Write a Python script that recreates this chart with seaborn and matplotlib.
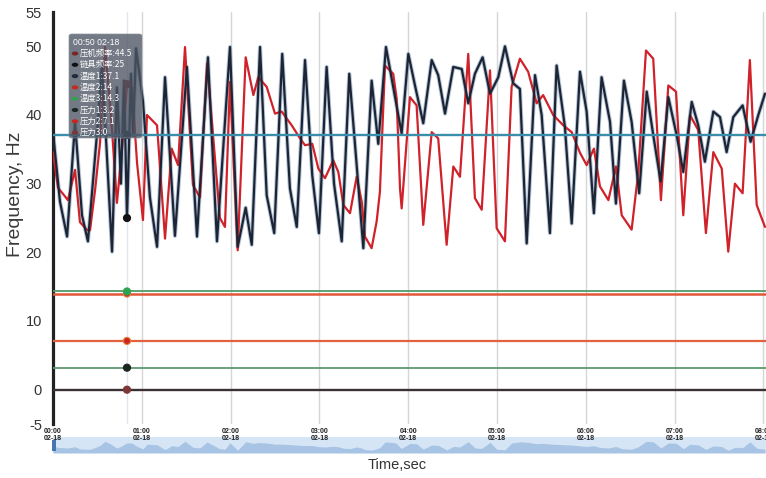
import numpy as np
import pandas as pd
import matplotlib
matplotlib.use("Agg")
import matplotlib.pyplot as plt
import seaborn as sns
from matplotlib.patches import FancyBboxPatch, Rectangle, Circle

# ---------------- data (time in minutes) ----------------
press_freq_t = [0.0, 3.4, 6.8, 10.1, 14.9, 18.2, 22.8, 25.0, 28.4, 31.8, 35.1, 39.2, 43.2, 46.6, 50.0,
                53.4, 56.8, 60.8, 63.5, 70.3, 75.7, 80.2, 84.5, 89.2, 94.6, 99.3, 104.1, 112.8, 116.2,
                119.6, 124.8, 130.2, 135.4, 138.7, 144.4, 150.0, 154.5, 161.3, 166.9, 170.3, 175.2,
                179.3, 183.8, 189.4, 192.8, 196.2, 200.7, 205.2, 208.6, 210.8, 215.3, 218.7, 220.9,
                224.3, 229.9, 232.2, 234.5, 235.6, 241.2, 245.7, 250.2, 255.9, 260.3, 266.0, 270.5,
                275.0, 280.6, 285.1, 289.7, 295.3, 299.8, 305.4, 309.9, 315.5, 321.1, 326.8, 331.2,
                338.0, 344.8, 350.5, 356.1, 360.6, 365.5, 369.6, 375.3, 380.4, 384.3, 391.0, 395.5,
                400.7, 405.6, 410.8, 415.8, 421.0, 425.9, 430.4, 436.0, 441.2, 446.2, 451.9, 456.3,
                460.8, 466.0, 470.9, 475.5, 481.1]
press_freq_v = [34.6, 29.4, 28.5, 27.6, 32.0, 24.4, 23.3, 23.2, 29.0, 36.0, 49.9, 40.0, 27.2, 35.0, 44.5,
                44.0, 33.0, 24.7, 40.0, 38.5, 22.0, 35.1, 32.7, 49.9, 29.8, 28.0, 47.5, 25.0, 23.7,
                44.8, 20.3, 48.4, 42.9, 45.5, 44.1, 40.2, 40.5, 38.5, 36.6, 35.6, 35.8,
                32.2, 30.8, 33.4, 31.7, 26.9, 25.7, 31.0, 27.4, 22.3, 20.6, 24.5, 28.8,
                47.2, 46.0, 42.4, 29.3, 26.4, 42.6, 41.4, 24.0, 37.5, 36.6, 21.1, 32.5,
                31.0, 48.9, 27.9, 26.2, 46.5, 23.5, 21.6, 44.1, 48.2, 46.3, 41.7, 42.9,
                40.0, 38.5, 37.5, 34.5, 32.7, 35.1, 29.6, 27.6, 32.5, 25.4, 23.3, 31.7,
                49.4, 48.2, 27.6, 44.3, 43.4, 25.4, 40.0, 37.8, 22.8, 34.6, 32.2, 20.1,
                30.0, 28.6, 48.0, 26.9, 23.7]

chain_freq_t = [0.0, 4.7, 9.5, 14.9, 19.6, 23.6, 30.4, 33.1, 39.9, 43.2, 45.9, 48.0, 50.0, 52.7, 54.1,
                56.1, 60.8, 65.5, 70.3, 75.7, 82.4, 90.5, 97.3, 104.7, 110.8, 119.6, 124.8, 130.2,
                134.3, 139.9, 144.4, 149.5, 154.9, 160.1, 164.7, 170.3, 175.2, 179.7, 184.9, 189.9,
                195.1, 200.2, 205.2, 209.7, 215.3, 219.8, 225.0, 229.7, 235.6, 240.1, 244.6, 250.2,
                255.9, 260.3, 264.9, 270.5, 276.2, 280.6, 285.1, 290.3, 295.3, 300.9, 305.4, 311.0,
                315.5, 320.1, 325.7, 330.2, 335.8, 340.3, 345.9, 350.5, 356.1, 360.6, 365.5, 370.7,
                376.4, 380.4, 385.8, 391.0, 396.1, 401.2, 405.6, 410.6, 415.8, 421.4, 425.9, 431.6,
                436.0, 440.5, 446.2, 450.7, 455.2, 459.7, 466.0, 471.4, 476.6, 481.1]
chain_freq_v = [37.5, 27.4, 22.3, 38.8, 25.4, 21.6, 39.0, 47.5, 20.1, 44.0, 30.0, 45.0, 25.0, 46.0, 37.0,
                49.7, 42.0, 28.0, 20.8, 45.5, 22.4, 47.0, 22.3, 48.4, 21.6, 49.9, 20.8, 26.5,
                21.1, 49.9, 28.3, 22.8, 48.9, 29.3, 23.7, 48.0, 31.2, 22.8, 47.0, 30.0,
                21.6, 46.0, 32.7, 20.6, 45.0, 35.8, 49.9, 44.3, 37.3, 48.9, 44.3, 38.8,
                48.0, 45.8, 40.2, 47.0, 46.7, 41.7, 46.0, 48.4, 43.1, 45.5, 50.0, 44.6,
                43.8, 21.3, 45.8, 40.0, 22.8, 47.2, 38.3, 24.2, 46.3, 40.5, 25.7, 45.5,
                39.0, 27.1, 45.0, 39.0, 28.6, 43.4, 37.1, 30.3, 42.6, 37.1, 31.7, 41.9,
                38.5, 33.2, 40.5, 39.7, 34.6, 39.7, 41.4, 36.1, 40.0, 43.1]

const_names = ["温度1", "温度2", "温度3", "压力1", "压力2", "压力3"]
const_vals = [37.1, 14.0, 14.3, 3.2, 7.1, 0.0]

hover_time = 50
tooltip_title = "00:50 02-18"
tooltip_names = ["压机频率", "链具频率", "温度1", "温度2", "温度3", "压力1", "压力2", "压力3"]
tooltip_vals = [44.5, 25, 37.1, 14, 14.3, 3.2, 7.1, 0]

x_ticks = [0, 60, 120, 180, 240, 300, 360, 420, 480]
x_date = "02-18"
y_ticks = [-5, 0, 10, 20, 30, 40, 50, 55]

# ---------------- styles ----------------
sns.set_style("white")
plt.rcParams["font.family"] = ["Liberation Sans", "Noto Sans CJK SC", "DejaVu Sans"]

W, H = 766, 478
fig = plt.figure(figsize=(W / 100, H / 100), dpi=100)

def fx(px):
    return px / W

def fy(py):
    return 1 - py / H

ax = fig.add_axes([fx(53), fy(424), fx(766) - fx(53), fy(12) - fy(424)])
ax.set_zorder(2)

df = pd.concat([
    pd.DataFrame({"t": press_freq_t, "v": press_freq_v, "series": "压机频率"}),
    pd.DataFrame({"t": chain_freq_t, "v": chain_freq_v, "series": "链具频率"}),
])
line_colors = {"压机频率": "#d0222a", "链具频率": "#1d2535"}

# halo under the dark series
sns.lineplot(data=df[df.series == "链具频率"], x="t", y="v", color="#6f8fb3", lw=3.0,
             alpha=0.5, sort=False, estimator=None, ax=ax, legend=False, zorder=2,
             solid_joinstyle="round")
sns.lineplot(data=df, x="t", y="v", hue="series", palette=line_colors, lw=1.6,
             sort=False, estimator=None, ax=ax, legend=False, zorder=3,
             solid_joinstyle="round")

const_colors = ["#3a8eab", "#e2573a", "#4f9c68", "#5a9a6e", "#e2613f", "#3b3033"]
const_lw = [1.7, 1.8, 1.3, 1.3, 1.6, 1.7]
for v, c, lw in zip(const_vals, const_colors, const_lw):
    ax.axhline(v, color=c, lw=lw, zorder=4)

ax.axvline(hover_time, color="#e1e7ee", lw=1.0, zorder=1)

marker_colors = ["#7b2626", "#111111", "#1f2a3d", "#c42a1e", "#2fa24f", "#1b2620", "#c8281e", "#7d3535"]
marker_edges = ["#7b2626", "#111111", "#1f2a3d", "#f07a3a", "#2fa24f", "#1b2620", "#f07a3a", "#7d3535"]
ax.scatter([hover_time] * len(tooltip_vals), tooltip_vals, s=26, c=marker_colors,
           edgecolors=marker_edges, linewidths=0.8, zorder=6)

ax.set_xlim(0, 481.8)
ax.set_ylim(-5, 55)
ax.set_xticks(x_ticks)
ax.set_xticklabels([f"{t // 60:02d}:{t % 60:02d}\n{x_date}" for t in x_ticks],
                   fontsize=5, color="#222222", linespacing=0.95, fontweight="bold")
ax.set_yticks(y_ticks)
ax.set_yticklabels([str(v) for v in y_ticks], fontsize=10.5, color="#333333")
ax.tick_params(axis="x", length=0, pad=3)
ax.tick_params(axis="y", length=4, width=1, color="#333333", pad=4)
ax.xaxis.grid(True, color="#d6d6d6", lw=1.0, zorder=0)
ax.yaxis.grid(False)
for s in ["top", "right", "bottom"]:
    ax.spines[s].set_visible(False)
ax.spines["left"].set_color("#222222")
ax.spines["left"].set_linewidth(2.3)
ax.set_xlabel("")
ax.set_ylabel("Frequency, Hz", fontsize=14, color="#3a3a3a")
ax.yaxis.set_label_coords((24 - 53) / 713, (424 - 194) / 412)

# ---------------- overview slider ----------------
ax2 = fig.add_axes([fx(53), fy(453), fx(766) - fx(53), fy(437) - fy(453)])
ax2.set_zorder(1)
ax2.set_facecolor("#d6e5f6")
ax2.fill_between(press_freq_t, 11, press_freq_v, color="#a7c4e5", lw=0)
ax2.set_xlim(0, 481.8)
ax2.set_ylim(11, 64)
ax2.set_xticks([])
ax2.set_yticks([])
for s in ax2.spines.values():
    s.set_visible(False)
fig.patches.append(Rectangle((fx(52), fy(451)), fx(4), fy(440) - fy(451), transform=fig.transFigure,
                             facecolor="#4a74b0", edgecolor="none", zorder=5))

fig.text(fx(397), fy(465), "Time,sec", ha="center", va="center", fontsize=10.5, color="#333333")

# ---------------- tooltip ----------------
box = FancyBboxPatch((fx(69), fy(138)), fx(142) - fx(69), fy(34) - fy(138),
                     boxstyle="round,pad=0,rounding_size=0.004", transform=fig.transFigure,
                     facecolor="#4c5563", edgecolor="#8a929c", lw=0.6, alpha=0.78, zorder=10)
fig.patches.append(box)
fig.text(fx(73), fy(42.7), tooltip_title, ha="left", va="center", fontsize=6.2, color="white", zorder=11)
for i, (n, v) in enumerate(zip(tooltip_names, tooltip_vals)):
    yy = 53.5 + i * 11.3
    fig.patches.append(Circle((fx(75), fy(yy)), 3.3 / W, transform=fig.transFigure,
                              facecolor=marker_colors[i], edgecolor="none", zorder=11))
    fig.text(fx(80), fy(yy), f"{n}:{v:g}", ha="left", va="center", fontsize=6,
             color="white", zorder=11, family=["Noto Sans CJK SC", "DejaVu Sans"])

fig.savefig("out.png", dpi=100)
